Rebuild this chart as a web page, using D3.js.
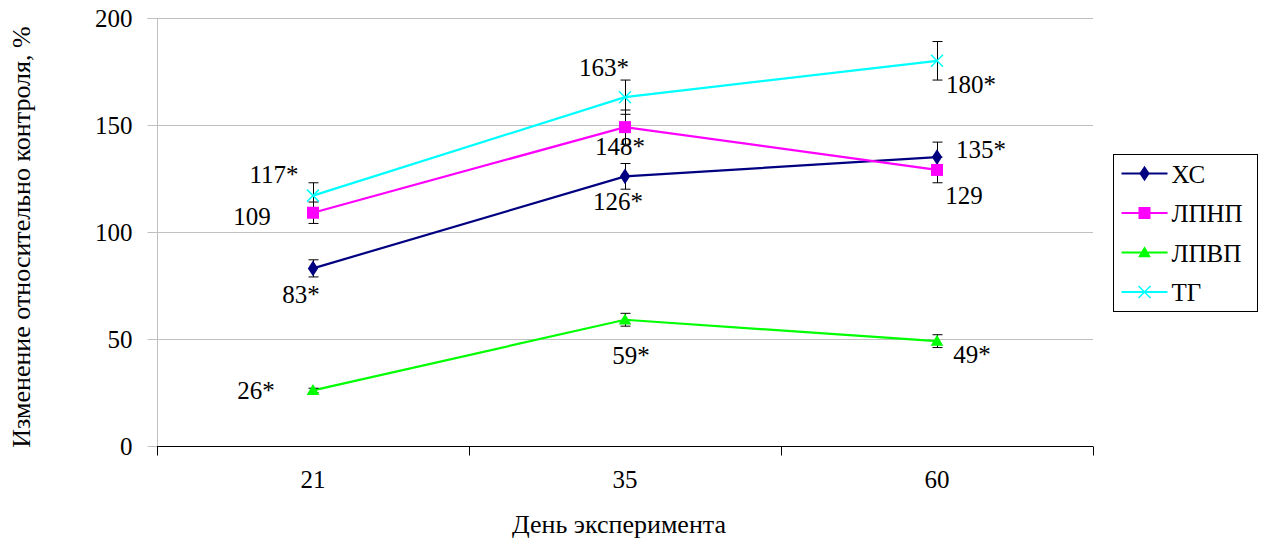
<!DOCTYPE html>
<html>
<head>
<meta charset="utf-8">
<script src="https://cdn.jsdelivr.net/npm/d3@7"></script>
<style>
  body { margin: 0; background: #fff; font-family: "Liberation Serif", serif; }
</style>
</head>
<body>
<div id="chart"></div>
<script>
// data
var days = ["21", "35", "60"];
var seriesNames = ["ХС", "ЛПНП", "ЛПВП", "ТГ"];
var colors = ["#000080", "#ff00ff", "#00ff00", "#00ffff"];
var valsXS   = [83, 126, 135];
var valsLPNP = [109, 149, 129];
var valsLPVP = [26, 59, 49];
var valsTG   = [117, 163, 180];
var errXS   = [4, 6, 7];
var errLPNP = [5, 8, 6];
var errLPVP = [1, 3, 3];
var errTG   = [6, 8, 9];
var lblXS   = ["83*", "126*", "135*"];
var lblLPNP = ["109", "148*", "129"];
var lblLPVP = ["26*", "59*", "49*"];
var lblTG   = ["117*", "163*", "180*"];
var yTicks = [0, 50, 100, 150, 200];

// label placement (offset from point, px)
var lblOff = [
  [[-12, 35], [-7, 34], [44, 1]],
  [[-61, 12], [-5, 28], [27, 34]],
  [[-57, 9], [6, 44], [35, 22]],
  [[-39, -13], [-21, -21], [34, 32]]
];

var FONT = "Liberation Serif";

var series = [valsXS, valsLPNP, valsLPVP, valsTG];
var errs = [errXS, errLPNP, errLPVP, errTG];
var lbls = [lblXS, lblLPNP, lblLPVP, lblTG];

var W = 1264, H = 544;
var m = {left: 157, right: 171, top: 18, bottom: 98};
var pw = W - m.left - m.right, ph = H - m.top - m.bottom;

var svg = d3.select("#chart").append("svg").attr("width", W).attr("height", H)
  .attr("font-family", FONT);
var g = svg.append("g").attr("transform", "translate(" + m.left + "," + m.top + ")");

var x = d3.scaleBand().domain(days).range([0, pw]);
var y = d3.scaleLinear().domain([0, 200]).range([ph, 0]);

// grid
g.selectAll(".grid").data(yTicks.filter(function(d){ return d > 0; })).enter().append("line")
  .attr("x1", 0).attr("x2", pw)
  .attr("y1", function(d){ return y(d) + 0.5; }).attr("y2", function(d){ return y(d) + 0.5; })
  .attr("stroke", "#c0c0c0").attr("stroke-width", 1);

// y axis
var yAxis = g.append("g").attr("transform", "translate(0.5,0)")
  .call(d3.axisLeft(y).tickValues(yTicks).tickSize(10).tickPadding(15));
yAxis.attr("font-family", FONT).attr("font-size", 25);
yAxis.select(".domain").attr("stroke", "#c0c0c0").attr("d", "M-10," + (y(200)+0.5) + "H0V" + ph);
yAxis.selectAll(".tick line").attr("stroke", "#c0c0c0");
yAxis.selectAll(".tick text").attr("font-family", FONT).attr("font-size", 25).attr("fill", "#000");

// x axis
var xAxis = g.append("g").attr("transform", "translate(0," + (ph + 0.5) + ")");
xAxis.append("line").attr("x1", 0).attr("x2", pw).attr("stroke", "#000");
var bounds = [0].concat(days.map(function(d){ return x(d) + x.bandwidth(); }));
xAxis.selectAll(".xt").data(bounds).enter().append("line")
  .attr("x1", function(d){ return Math.round(d) + 0.5; }).attr("x2", function(d){ return Math.round(d) + 0.5; })
  .attr("y1", 0).attr("y2", 9).attr("stroke", "#000");
xAxis.selectAll(".xl").data(days).enter().append("text")
  .attr("x", function(d){ return x(d) + x.bandwidth() / 2; })
  .attr("y", 41).attr("text-anchor", "middle").attr("font-family", FONT).attr("font-size", 25)
  .text(function(d){ return d; });

// axis titles
svg.append("text").attr("x", 619).attr("y", 533).attr("text-anchor", "middle")
  .attr("font-family", FONT).attr("font-size", 26).text("День эксперимента");
svg.append("text").attr("transform", "translate(30,237) rotate(-90)").attr("text-anchor", "middle")
  .attr("font-family", FONT).attr("font-size", 26).text("Изменение относительно контроля, %");

var cx = function(i){ return x(days[i]) + x.bandwidth() / 2; };

// lines
var line = d3.line().x(function(d, i){ return cx(i); }).y(function(d){ return y(d); });
series.forEach(function(s, k){
  g.append("path").datum(s).attr("d", line).attr("fill", "none")
    .attr("stroke", colors[k]).attr("stroke-width", 2.2);
});

// error bars
series.forEach(function(s, k){
  s.forEach(function(v, i){
    var e = errs[k][i];
    var xx = Math.round(cx(i)) + 0.5;
    var eg = g.append("g").attr("stroke", "#000").attr("stroke-width", 1);
    eg.append("line").attr("x1", xx).attr("x2", xx).attr("y1", y(v + e)).attr("y2", y(v - e));
    eg.append("line").attr("x1", xx - 5).attr("x2", xx + 5).attr("y1", y(v + e)).attr("y2", y(v + e));
    eg.append("line").attr("x1", xx - 5).attr("x2", xx + 5).attr("y1", y(v - e)).attr("y2", y(v - e));
  });
});

// markers
function marker(sel, k, px, py){
  if (k === 0) {
    sel.append("path").attr("d", d3.symbol(d3.symbolDiamond, 70)())
      .attr("transform", "translate(" + px + "," + py + ") scale(1.15,1)").attr("fill", colors[k]);
  } else if (k === 1) {
    sel.append("rect").attr("x", px - 6).attr("y", py - 6).attr("width", 12).attr("height", 12).attr("fill", colors[k]);
  } else if (k === 2) {
    sel.append("path").attr("d", d3.symbol(d3.symbolTriangle, 70)())
      .attr("transform", "translate(" + px + "," + (py + 1) + ")").attr("fill", colors[k]);
  } else {
    sel.append("path").attr("d", "M-6,-6L6,6M-6,6L6,-6")
      .attr("transform", "translate(" + px + "," + py + ")").attr("stroke", colors[k]).attr("stroke-width", 1.5);
  }
}
series.forEach(function(s, k){
  s.forEach(function(v, i){ marker(g, k, cx(i), y(v)); });
});

// value labels
series.forEach(function(s, k){
  s.forEach(function(v, i){
    g.append("text").attr("x", cx(i) + lblOff[k][i][0]).attr("y", y(v) + lblOff[k][i][1])
      .attr("text-anchor", "middle").attr("font-family", FONT).attr("font-size", 25).text(lbls[k][i]);
  });
});

// legend
var lg = svg.append("g").attr("transform", "translate(1113.5,154.5)");
lg.append("rect").attr("width", 144).attr("height", 157).attr("fill", "#fff").attr("stroke", "#000");
seriesNames.forEach(function(n, k){
  var yy = 19 + k * 39.5;
  lg.append("line").attr("x1", 8).attr("x2", 54).attr("y1", yy).attr("y2", yy)
    .attr("stroke", colors[k]).attr("stroke-width", 2.2);
  marker(lg, k, 31, yy);
  lg.append("text").attr("x", 58).attr("y", yy + 9).attr("font-family", FONT).attr("font-size", 25).text(n);
});
</script>
</body>
</html>
